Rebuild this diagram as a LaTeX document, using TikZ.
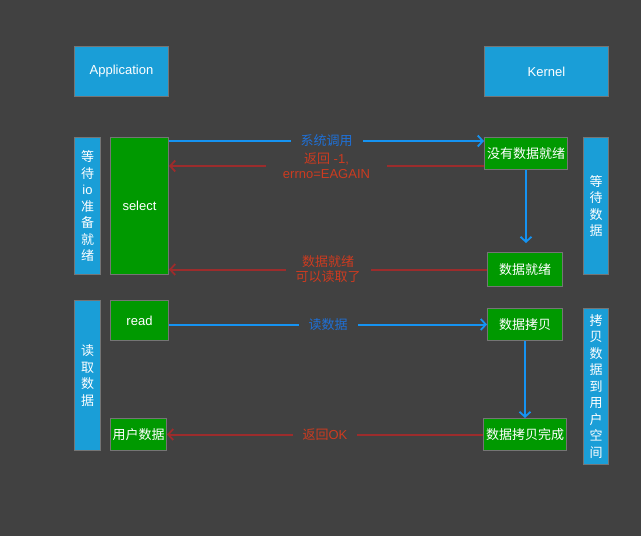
\documentclass[tikz,border=0pt]{standalone}
\usepackage{fontspec}
\setmainfont{Liberation Sans}
\newfontfamily\cjk{Noto Sans CJK SC}
\usetikzlibrary{arrows.meta}
\definecolor{bgcol}{HTML}{414141}
\definecolor{sidecol}{HTML}{1A9ED7}
\definecolor{stepcol}{HTML}{009900}
\definecolor{edgecol}{HTML}{757575}
\definecolor{calline}{HTML}{1593F2}
\definecolor{caltext}{HTML}{1F70D6}
\definecolor{retline}{HTML}{9C2C2C}
\definecolor{rettext}{HTML}{CC3B20}
\tikzset{
  basebox/.style={draw=edgecol, line width=1pt, inner sep=0pt, anchor=north west,
    text=white, align=center, font=\fontsize{13}{16.5}\selectfont},
  sidebox/.style={basebox, fill=sidecol},
  stepbox/.style={basebox, fill=stepcol},
  tip/.style={-{Straight Barb[length=5pt,width=11pt,line width=1.8pt]}},
  callarrow/.style={draw=calline, line width=2pt, tip},
  retarrow/.style={draw=retline, line width=2pt, tip},
  calllabel/.style={fill=bgcol, text=caltext, inner ysep=1pt, inner xsep=10pt,
    font=\fontsize{13}{15}\selectfont, align=center},
  retlabel/.style={fill=bgcol, text=rettext, inner ysep=1pt, inner xsep=10pt,
    font=\fontsize{13}{15}\selectfont, align=center}
}
\begin{document}
\begin{tikzpicture}[x=1pt,y=-1pt]
  \fill[bgcol] (0,0) rectangle (641,536);
  \useasboundingbox (0,0) rectangle (641,536);

  % header boxes
  \node[sidebox, minimum width=94pt, minimum height=50pt] (app) at (74,46) {Application};
  \node[sidebox, minimum width=124pt, minimum height=50pt] (kern) at (484,46) {Kernel};

  % select phase
  \node[sidebox, minimum width=26pt, minimum height=137pt] (waitio) at (74,137)
    {{\cjk 等}\\{\cjk 待}\\io\\{\cjk 准}\\{\cjk 备}\\{\cjk 就}\\{\cjk 绪}};
  \node[stepbox, minimum width=58pt, minimum height=137pt] (sel) at (110,137) {select};
  \node[stepbox, minimum width=83pt, minimum height=32pt] (nodata) at (484,137) {\cjk 没有数据就绪};
  \node[stepbox, minimum width=75pt, minimum height=34pt] (ready) at (487,252) {\cjk 数据就绪};
  \node[sidebox, minimum width=25pt, minimum height=137pt] (waitdata) at (583,137)
    {{\cjk 等}\\{\cjk 待}\\{\cjk 数}\\{\cjk 据}};

  % read phase
  \node[sidebox, minimum width=26pt, minimum height=150pt] (readside) at (74,300)
    {{\cjk 读}\\{\cjk 取}\\{\cjk 数}\\{\cjk 据}};
  \node[stepbox, minimum width=58pt, minimum height=40pt] (rd) at (110,300) {read};
  \node[stepbox, minimum width=56pt, minimum height=32pt] (udata) at (110,418) {\cjk 用户数据};
  \node[stepbox, minimum width=75pt, minimum height=32pt] (copy) at (487,308) {\cjk 数据拷贝};
  \node[stepbox, minimum width=83pt, minimum height=32pt] (copied) at (483,418) {\cjk 数据拷贝完成};
  \node[sidebox, minimum width=25pt, minimum height=156pt] (copyside) at (583,308)
    {{\cjk 拷}\\{\cjk 贝}\\{\cjk 数}\\{\cjk 据}\\{\cjk 到}\\{\cjk 用}\\{\cjk 户}\\{\cjk 空}\\{\cjk 间}};

  % levels of the horizontal connectors
  \coordinate (lvlcall) at (0,141);
  \coordinate (lvlret) at (0,166);

  % connectors
  \draw[callarrow] (sel.east |- lvlcall) -- (nodata.west |- lvlcall)
    node[midway, calllabel] {\cjk 系统调用};
  \draw[retarrow] (nodata.west |- lvlret) -- (sel.east |- lvlret)
    node[midway, retlabel, inner xsep=17pt] {{\cjk 返回} -1,\\errno=EAGAIN};
  \draw[callarrow] (nodata.south) -- ([yshift=9pt]nodata.south |- ready.north);
  \draw[retarrow] (ready.west) -- (sel.east |- ready.west)
    node[midway, retlabel] {{\cjk 数据就绪}\\{\cjk 可以读取了}};

  \draw[callarrow] (rd.east |- copy.west) -- (copy.west)
    node[midway, calllabel] {\cjk 读数据};
  \draw[callarrow] (copy.south) -- (copy.south |- copied.north);
  \draw[retarrow] (copied.west) -- (udata.east)
    node[midway, retlabel] {{\cjk 返回}OK};
\end{tikzpicture}
\end{document}
